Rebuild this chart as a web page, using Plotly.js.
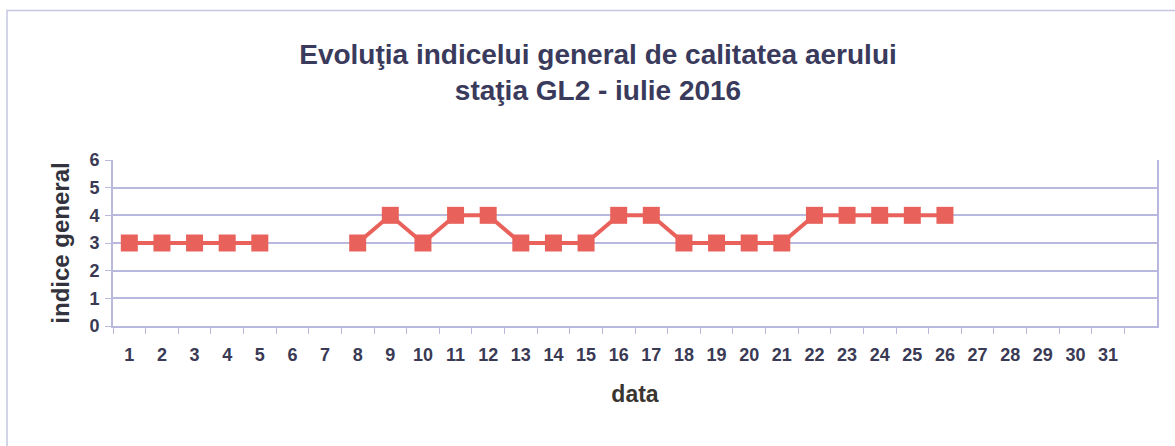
<!DOCTYPE html>
<html>
<head>
<meta charset="utf-8">
<script src="https://cdn.plot.ly/plotly-3.0.1.min.js"></script>
<style>
  body { margin: 0; background: #fff; }
  #chart { width: 1175px; height: 446px; }
</style>
</head>
<body>
<div id="chart"></div>
<script>
// zilele lunii iulie 2016
var days = ['1','2','3','4','5','6','7','8','9','10','11','12','13','14','15','16',
            '17','18','19','20','21','22','23','24','25','26','27','28','29','30','31'];
// indicele general pe zile (null = lipsa date)
var indice = [3, 3, 3, 3, 3, null, null, 3, 4, 3, 4, 4, 3, 3, 3, 4,
              4, 3, 3, 3, 3, 4, 4, 4, 4, 4, null, null, null, null, null];
var yTicks = [0, 1, 2, 3, 4, 5, 6];

var gridCol = '#b9b9df';
var fontFam = '"Liberation Sans", Arial, sans-serif';

var trace = {
  x: days,
  y: indice,
  type: 'scatter',
  mode: 'lines+markers',
  connectgaps: false,
  line: { color: '#e8625b', width: 4 },
  marker: { symbol: 'square', size: 17, color: '#e8625b' },
  hoverinfo: 'x+y'
};

var layout = {
  width: 1175,
  height: 446,
  margin: { l: 113, r: 18, t: 160, b: 120 },
  paper_bgcolor: '#ffffff',
  plot_bgcolor: '#ffffff',
  showlegend: false,
  font: { family: fontFam, color: '#3a3a55' },
  title: {
    text: 'Evoluţia indicelui general de calitatea aerului<br>staţia GL2 - iulie 2016',
    font: { family: fontFam, size: 28, weight: 'bold', color: '#3a3a5c' },
    xref: 'container', x: 598 / 1175, xanchor: 'center',
    yref: 'container', y: 1 - 64 / 446, yanchor: 'middle'
  },
  xaxis: {
    type: 'category',
    // o pozitie goala dupa ziua 31, ca in graficul original
    range: [-0.5, days.length + 0.5],
    autorange: false,
    tickvals: days,
    ticktext: days,
    tickson: 'boundaries',
    ticks: 'outside',
    ticklen: 6,
    tickcolor: gridCol,
    showline: true,
    linecolor: gridCol,
    linewidth: 2,
    showgrid: false,
    tickfont: { family: fontFam, size: 18, weight: 'bold', color: '#3a3a55' },
    ticklabelstandoff: 11,
    title: {
      text: 'data',
      font: { family: fontFam, size: 23, weight: 'bold', color: '#3a3530' },
      standoff: 22
    },
    fixedrange: true
  },
  yaxis: {
    range: [0, 6],
    autorange: false,
    tickvals: yTicks,
    ticks: 'outside',
    ticklen: 6,
    tickcolor: gridCol,
    showline: true,
    mirror: true,
    linecolor: gridCol,
    linewidth: 2,
    gridcolor: gridCol,
    gridwidth: 2,
    zeroline: false,
    tickfont: { family: fontFam, size: 18, weight: 'bold', color: '#3a3a55' },
    ticklabelstandoff: 2,
    title: {
      text: 'indice general',
      font: { family: fontFam, size: 24, weight: 'bold', color: '#33333d' },
      standoff: 13
    },
    fixedrange: true
  },
  shapes: [{
    type: 'rect',
    xref: 'paper', yref: 'paper',
    x0: (7 - 113) / 1044, x1: 1.2,
    y0: -1, y1: (326 - 10.5) / 166,
    line: { color: '#c6c6e2', width: 1.5 },
    layer: 'below'
  }]
};

Plotly.newPlot('chart', [trace], layout, { displayModeBar: false, staticPlot: true });
</script>
</body>
</html>
